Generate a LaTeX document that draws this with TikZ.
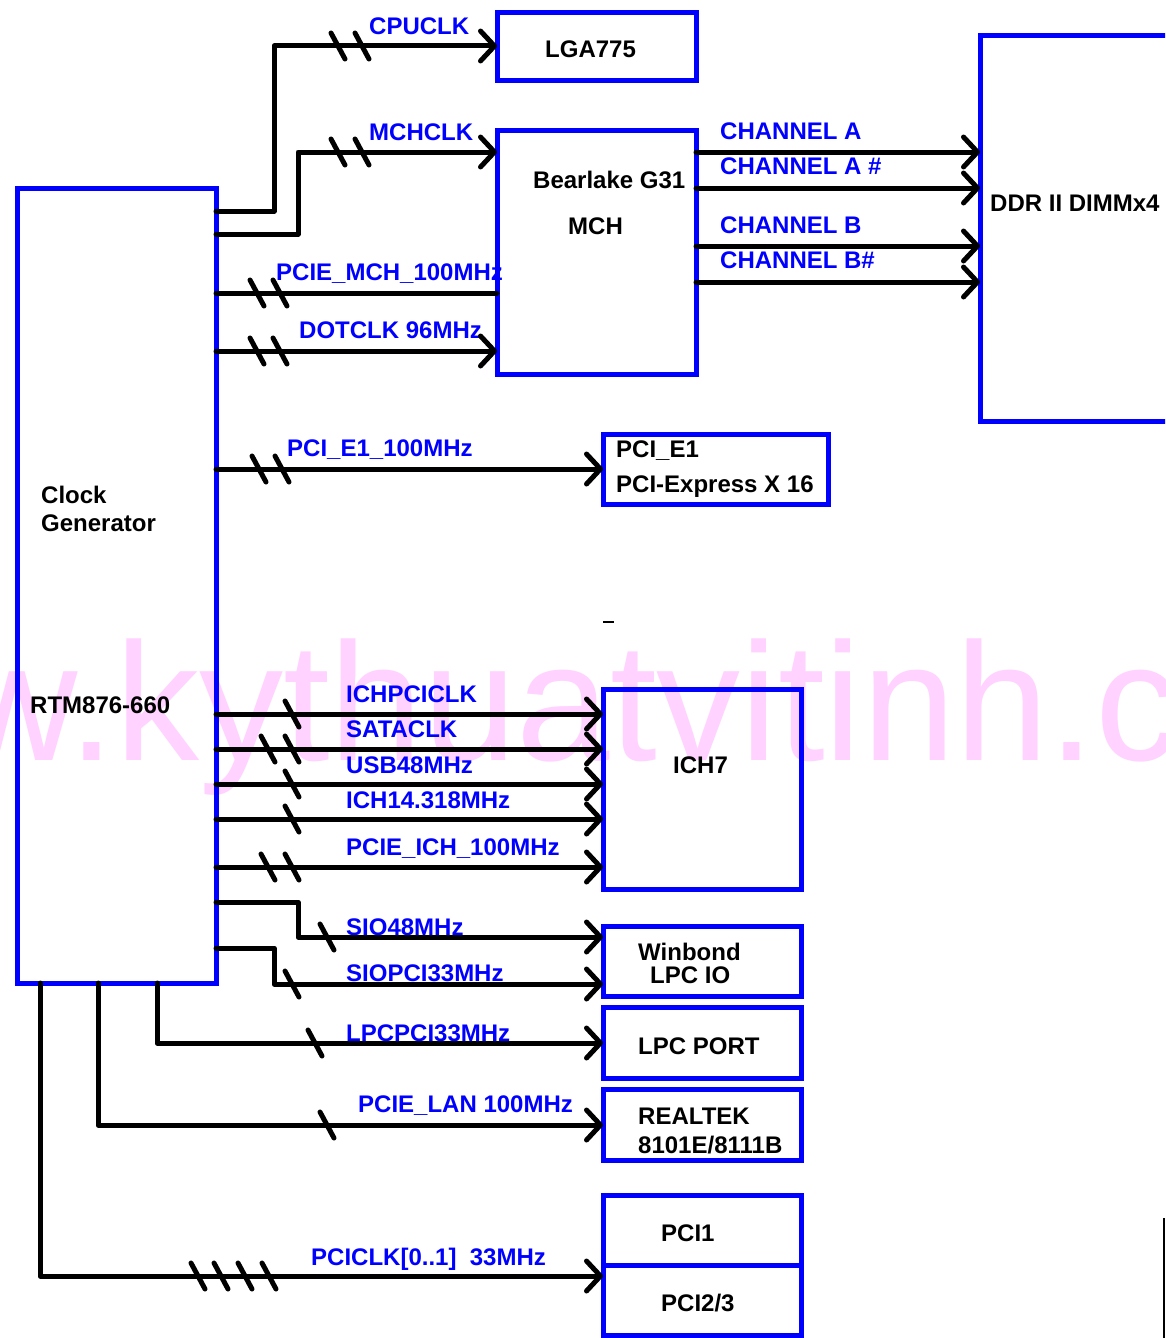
\documentclass[tikz,border=0pt]{standalone}
\usepackage{fontspec}
\setmainfont{Liberation Sans}
\usetikzlibrary{arrows.meta}
\definecolor{pblue}{RGB}{0,0,255}
\definecolor{wmark}{RGB}{255,210,255}
\begin{document}
\begin{tikzpicture}[x=1pt,y=-1pt,
  box/.style={draw=pblue,line width=5pt,inner sep=0pt,outer sep=0pt,rectangle},
  wire/.style={line width=5pt,line cap=round,line join=round},
  arr/.style={wire,-{Straight Barb[length=14pt,width=30pt,round]}},
  lbl/.style={text=pblue,font=\fontsize{24}{28}\selectfont\bfseries,inner sep=0pt,anchor=base west},
  btxt/.style={text=black,font=\fontsize{24}{28}\selectfont\bfseries,inner sep=0pt,anchor=base west},
  busmark/.pic={\draw[wire] (-7,-13) -- (7,13);}
]
\clip (0,0) rectangle (1165,1338);
\useasboundingbox (0,0) rectangle (1165,1338);

% watermark
\node[anchor=base west,inner sep=0pt,text=wmark,font=\fontsize{168}{170}\selectfont] (wm) at (115,760) {\llap{www.}kythuatvitinh.com};

% blue labels
\node[lbl] (l1) at (369,35) {CPUCLK};
\node[lbl] (l2) at (369,140) {MCHCLK};
\node[lbl] (l3) at (276,280) {PCIE\_MCH\_100MHz};
\node[lbl] (l4) at (299,338) {DOTCLK 96MHz};
\node[lbl] (l5) at (287,456) {PCI\_E1\_100MHz};
\node[lbl] (c1) at (720,139) {CHANNEL A};
\node[lbl] (c2) at (720,174) {CHANNEL A \#};
\node[lbl] (c3) at (720,233) {CHANNEL B};
\node[lbl] (c4) at (720,268) {CHANNEL B\#};
\node[lbl] (l6) at (346,702) {ICHPCICLK};
\node[lbl] (l7) at (346,737) {SATACLK};
\node[lbl] (l8) at (346,773) {USB48MHz};
\node[lbl] (l9) at (346,808) {ICH14.318MHz};
\node[lbl] (l10) at (346,855) {PCIE\_ICH\_100MHz};
\node[lbl] (l11) at (346,935) {SIO48MHz};
\node[lbl] (l12) at (346,981) {SIOPCI33MHz};
\node[lbl] (l13) at (346,1041) {LPCPCI33MHz};
\node[lbl] (l14) at (358,1112) {PCIE\_LAN 100MHz};
\node[lbl] (l15) at (311,1265) {PCICLK[0..1]\ \ 33MHz};

% black texts
\node[btxt] (t1) at (545,58) {LGA775};
\node[btxt] (t2) at (533,188) {Bearlake G31};
\node[btxt] (t3) at (568,234) {MCH};
\node[btxt] (t4) at (990,211) {DDR II DIMMx4};
\node[btxt] (t5) at (616,457) {PCI\_E1};
\node[btxt] (t6) at (616,492) {PCI-Express X 16};
\node[btxt] (t7) at (41,503) {Clock};
\node[btxt] (t8) at (41,531) {Generator};
\node[btxt] (t9) at (30,713) {RTM876-660};
\node[btxt] (t10) at (673,773) {ICH7};
\node[btxt] (t11) at (638,960) {Winbond};
\node[btxt] (t12) at (650,983) {LPC IO};
\node[btxt] (t13) at (638,1054) {LPC PORT};
\node[btxt] (t14) at (638,1124) {REALTEK};
\node[btxt] (t15) at (638,1153) {8101E/8111B};
\node[btxt] (t16) at (661,1241) {PCI1};
\node[btxt] (t17) at (661,1311) {PCI2/3};

% boxes
\node[box,minimum width=199pt,minimum height=795pt] (clk) at (116.5,585.5) {};
\node[box,minimum width=199pt,minimum height=67pt] (lga) at (596.5,46.5) {};
\node[box,minimum width=199pt,minimum height=244pt] (mch) at (596.5,252) {};
\node[box,minimum width=195pt,minimum height=385pt] (ddr) at (1077.5,228.5) {};
\node[box,minimum width=225pt,minimum height=70pt] (pcie) at (715.5,469) {};
\node[box,minimum width=198pt,minimum height=200pt] (ich) at (702,789) {};
\node[box,minimum width=198pt,minimum height=70pt] (sio) at (702,961) {};
\node[box,minimum width=198pt,minimum height=71pt] (lpc) at (702,1042.5) {};
\node[box,minimum width=198pt,minimum height=71pt] (rtk) at (702,1124.5) {};
\node[box,minimum width=198pt,minimum height=70pt] (pci1) at (702,1230) {};
\node[box,minimum width=198pt,minimum height=70pt] (pci23) at (702,1300) {};

% connectors
\draw[arr] (clk.east |- 0,211) -| (274,46) -- (lga.west |- 0,46);
\draw[arr] (clk.east |- 0,234) -| (298,152) -- (mch.west |- 0,152);
\draw[wire] (clk.east |- 0,293) -- (mch.west |- 0,293);
\draw[arr] (clk.east |- 0,351) -- (mch.west |- 0,351);
\draw[arr] (clk.east |- 0,469) -- (pcie.west |- 0,469);
\draw[arr] (mch.east |- 0,152) -- (ddr.west |- 0,152);
\draw[arr] (mch.east |- 0,188) -- (ddr.west |- 0,188);
\draw[arr] (mch.east |- 0,246) -- (ddr.west |- 0,246);
\draw[arr] (mch.east |- 0,282) -- (ddr.west |- 0,282);
\draw[arr] (clk.east |- 0,714) -- (ich.west |- 0,714);
\draw[arr] (clk.east |- 0,749) -- (ich.west |- 0,749);
\draw[arr] (clk.east |- 0,784) -- (ich.west |- 0,784);
\draw[arr] (clk.east |- 0,819) -- (ich.west |- 0,819);
\draw[arr] (clk.east |- 0,867) -- (ich.west |- 0,867);
\draw[arr] (clk.east |- 0,902) -| (298,937) -- (sio.west |- 0,937);
\draw[arr] (clk.east |- 0,948) -| (274,984) -- (sio.west |- 0,984);
\draw[arr] (clk.south -| 157,0) |- (lpc.west |- 0,1043);
\draw[arr] (clk.south -| 98,0) |- (rtk.west |- 0,1125);
\draw[arr] (clk.south -| 40,0) |- (pci23.west |- 0,1276);

% bus marks
\foreach \p in {(338,46),(362,46),(338,152),(362,152),(257,293),(280,293),
  (257,351),(280,351),(259,469),(282,469),(292,714),(268,749),(292,749),
  (292,784),(292,819),(268,867),(292,867),(327,937),(292,984),(315,1043),
  (327,1125),(198,1276),(221,1276),(245,1276),(269,1276)}
  \pic at \p {busmark};

% stray marks
\draw[line width=2pt] (603,622) -- (614,622);
\draw[line width=2pt] (1164,1218) -- (1164,1338);
\end{tikzpicture}
\end{document}
